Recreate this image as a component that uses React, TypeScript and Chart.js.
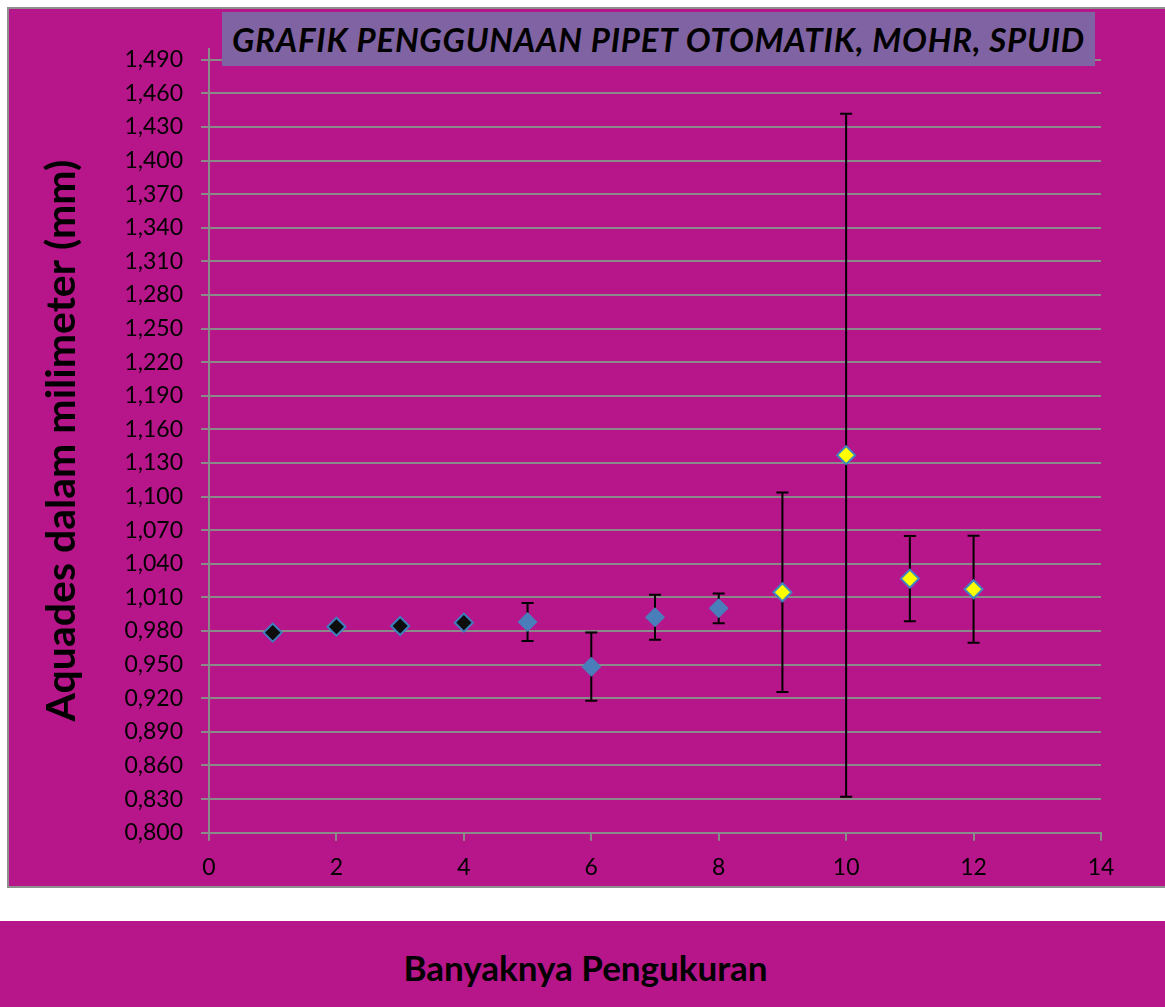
import React, { useEffect, useRef } from "react";
import { Chart, registerables } from "chart.js";

Chart.register(...registerables);

// ---- data ----
const titleText = "GRAFIK PENGGUNAAN PIPET OTOMATIK, MOHR, SPUID";
const yAxisTitle = "Aquades dalam milimeter (mm)";
const xAxisTitle = "Banyaknya Pengukuran";

// series 1 (no error bars)
const xSeriesA = [1, 2, 3, 4];
const ySeriesA = [0.9786, 0.9839, 0.9845, 0.9875];

// series 2 (blue)
const xSeriesB = [5, 6, 7, 8];
const ySeriesB = [0.9881, 0.9482, 0.9923, 1.0003];
const errSeriesB = [0.017, 0.0305, 0.02, 0.0133];

// series 3 (yellow)
const xSeriesC = [9, 10, 11, 12];
const ySeriesC = [1.0146, 1.137, 1.0268, 1.0173];
const errSeriesC = [0.089, 0.3048, 0.038, 0.0477];

const yTickValues = [
  0.8, 0.83, 0.86, 0.89, 0.92, 0.95, 0.98, 1.01, 1.04, 1.07, 1.1, 1.13,
  1.16, 1.19, 1.22, 1.25, 1.28, 1.31, 1.34, 1.37, 1.4, 1.43, 1.46, 1.49,
];
const yTickLabels = [
  "0,800", "0,830", "0,860", "0,890", "0,920", "0,950", "0,980", "1,010",
  "1,040", "1,070", "1,100", "1,130", "1,160", "1,190", "1,220", "1,250",
  "1,280", "1,310", "1,340", "1,370", "1,400", "1,430", "1,460", "1,490",
];
const xTickValues = [0, 2, 4, 6, 8, 10, 12, 14];

const MAGENTA = "rgb(183,21,138)";
const GRID = "#8a8a8a";

const errorBarPlugin = {
  id: "errorBars",
  beforeDatasetsDraw(chart: any) {
    const ctx = chart.ctx;
    const xs = chart.scales.x;
    const ys = chart.scales.y;
    ctx.save();
    ctx.strokeStyle = "#000";
    ctx.lineWidth = 2;
    chart.data.datasets.forEach((ds: any) => {
      if (!ds.errors) return;
      ds.data.forEach((p: any, i: number) => {
        const e = ds.errors[i];
        const px = xs.getPixelForValue(p.x);
        const top = ys.getPixelForValue(p.y + e);
        const bot = ys.getPixelForValue(p.y - e);
        ctx.beginPath();
        ctx.moveTo(px, top);
        ctx.lineTo(px, bot);
        ctx.moveTo(px - 6, top);
        ctx.lineTo(px + 6, top);
        ctx.moveTo(px - 6, bot);
        ctx.lineTo(px + 6, bot);
        ctx.stroke();
      });
    });
    ctx.restore();
  },
};

function ChartCanvas() {
  const ref = useRef<HTMLCanvasElement | null>(null);
  useEffect(() => {
    if (!ref.current) return;
    const tickFont = { family: "Lato", size: 23 };
    const chart = new Chart(ref.current, {
      type: "scatter",
      data: {
        datasets: [
          {
            data: xSeriesA.map((x, i) => ({ x, y: ySeriesA[i] })),
            pointStyle: "rectRot",
            pointRadius: 9,
            backgroundColor: "#0d0d0d",
            borderColor: "#3d7fbd",
            borderWidth: 2,
          } as any,
          {
            data: xSeriesB.map((x, i) => ({ x, y: ySeriesB[i] })),
            errors: errSeriesB,
            pointStyle: "rectRot",
            pointRadius: 10,
            backgroundColor: "#4a7ebb",
            borderWidth: 0,
          } as any,
          {
            data: xSeriesC.map((x, i) => ({ x, y: ySeriesC[i] })),
            errors: errSeriesC,
            pointStyle: "rectRot",
            pointRadius: 9,
            backgroundColor: "#ffff00",
            borderColor: "#3f86c0",
            borderWidth: 2,
          } as any,
        ],
      },
      options: {
        animation: false,
        responsive: false,
        maintainAspectRatio: false,
        layout: { padding: { top: 39.5, right: 64, left: 0, bottom: 0 } },
        plugins: {
          legend: { display: false },
          tooltip: { enabled: false },
          title: { display: false },
        },
        scales: {
          x: {
            type: "linear",
            min: 0,
            max: 14,
            afterBuildTicks: (s: any) => {
              s.ticks = xTickValues.map((v) => ({ value: v }));
            },
            ticks: {
              font: tickFont,
              color: "#000",
              padding: 13,
              maxRotation: 0,
              callback: (v: any) => String(v),
            },
            grid: {
              drawOnChartArea: false,
              drawTicks: true,
              tickLength: 8,
              color: GRID,
              lineWidth: 2,
            },
            border: { color: GRID, width: 2 },
            afterFit: (s: any) => {
              s.height = 53.3;
            },
          },
          y: {
            type: "linear",
            min: 0.8,
            max: 1.5,
            afterBuildTicks: (s: any) => {
              s.ticks = yTickValues.map((v) => ({ value: v }));
            },
            ticks: {
              font: tickFont,
              color: "#000",
              padding: 18,
              callback: (v: any) => {
                const i = yTickValues.findIndex((t) => Math.abs(t - v) < 1e-6);
                return i >= 0 ? yTickLabels[i] : "";
              },
            },
            grid: {
              drawTicks: true,
              tickLength: 8,
              color: GRID,
              lineWidth: 2,
            },
            border: { color: GRID, width: 2 },
            title: {
              display: true,
              text: yAxisTitle,
              color: "#000",
              font: { family: "Lato", size: 41, weight: "bold" },
              padding: { top: 28.5, bottom: 0 },
            },
            afterFit: (s: any) => {
              s.width = 200;
            },
          },
        },
      } as any,
      plugins: [errorBarPlugin],
    });
    return () => chart.destroy();
  }, []);
  return (
    <canvas
      ref={ref}
      width={1156}
      height={877}
      style={{ position: "absolute", left: 9, top: 9, width: 1156, height: 877 }}
    />
  );
}

export default function App() {
  return (
    <div
      style={{
        position: "fixed",
        left: 0,
        top: 0,
        width: 1165,
        height: 1007,
        overflow: "hidden",
        background: "#fff",
        fontFamily: "Lato, sans-serif",
      }}
    >
      <div
        style={{
          position: "absolute",
          left: 7,
          top: 7,
          width: 1180,
          height: 881,
          boxSizing: "border-box",
          border: "2px solid #8f8f8f",
          background: MAGENTA,
        }}
      />
      <ChartCanvas />
      <div
        style={{
          position: "absolute",
          left: 222,
          top: 12,
          width: 873,
          height: 54,
          background: "rgb(128,99,162)",
          color: "#000",
          fontStyle: "italic",
          fontWeight: 700,
          fontSize: 33,
          letterSpacing: "0.8px",
          lineHeight: "54px",
          textAlign: "center",
          whiteSpace: "nowrap",
        }}
      >
        {titleText}
      </div>
      <div
        style={{
          position: "absolute",
          left: 0,
          top: 921,
          width: 1165,
          height: 86,
          background: MAGENTA,
        }}
      >
        <div
          style={{
            position: "absolute",
            left: 3,
            top: 3,
            width: 1165,
            height: 86,
            lineHeight: "86px",
            textAlign: "center",
            fontWeight: 700,
            fontSize: 35,
            color: "#000",
            whiteSpace: "nowrap",
          }}
        >
          {xAxisTitle}
        </div>
      </div>
    </div>
  );
}
